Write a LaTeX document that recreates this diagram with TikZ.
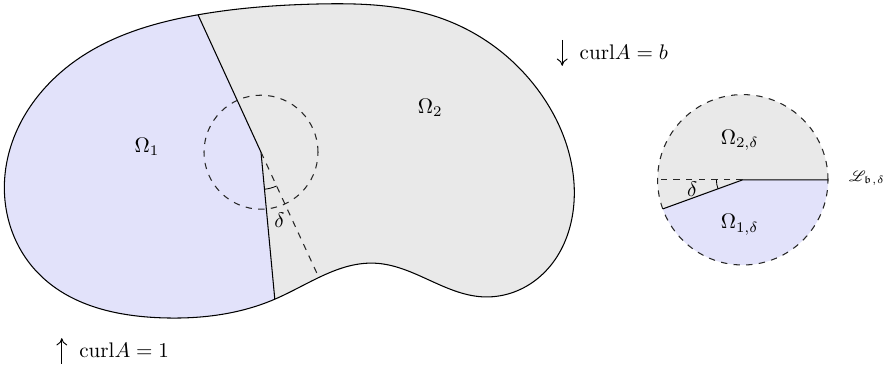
\documentclass[tikz,border=0pt]{standalone}
\usepackage{amsmath,amssymb}
\usepackage{mathrsfs}
\usepackage{xcolor}
\usepackage{tikz}
\usetikzlibrary{angles, quotes, calc, hobby, arrows.meta}

\definecolor{regionone}{RGB}{226,226,250}
\definecolor{regiontwo}{RGB}{233,233,233}

\begin{document}
\begin{tikzpicture}[
    region/.style={font=\normalsize},
    bdry/.style={black, line width=0.5pt},
    aux/.style={dashed, black!85, line width=0.5pt},
    lbl/.style={font=\normalsize, inner sep=1pt},
    arr/.style={-{To[length=1.2mm, width=1.8mm]}, line width=0.45pt}
]
\useasboundingbox (0,0) rectangle (14.75,6.1667);

% Points on the interface
\coordinate (top) at (3.30,5.92);
\coordinate (kink) at (4.35,3.63);
\coordinate (bot) at (4.58,1.18);
\coordinate (dend) at (5.32,1.53);

\def\boundary{[closed hobby] plot coordinates {
    (3.30,5.92) (5.30,6.10) (7.33,5.87) (9.05,4.55)
    (9.57,3.05) (8.93,1.50) (8.03,1.22) (6.25,1.78)
    (4.58,1.18) (2.68,0.87) (0.63,1.62) (0.08,3.22)
    (1.28,5.17)}}

% Domain
\fill[regiontwo] \boundary;
\begin{scope}
\clip (kink) -- (top) -- (3.05,6.5) -- (-0.5,6.5) -- (-0.5,0.3) -- (4.63,0.3) -- (bot) -- cycle;
\fill[regionone] \boundary;
\end{scope}
\draw[bdry] \boundary;

% Interface and blow-up disc
\draw[bdry] (top) -- (kink) -- (bot);
\draw[aux] (kink) -- (dend);
\draw[aux] (kink) circle (0.95);
\pic[draw, angle radius=0.62cm, "$\delta$", angle eccentricity=1.9] {angle = bot--kink--dend};

\node[region] (om1) at (2.45,3.72) {$\Omega_1$};
\node[region] (om2) at (7.17,4.37) {$\Omega_2$};

% Limit disc
\coordinate (c) at (12.38,3.17);
\coordinate (east) at ($(c)+(0:1.42)$);
\coordinate (west) at ($(c)+(180:1.42)$);
\coordinate (sw) at ($(c)+(200:1.42)$);
\fill[regiontwo] (c) -- (east) arc[start angle=0, end angle=200, radius=1.42] -- cycle;
\fill[regionone] (c) -- (sw) arc[start angle=200, end angle=360, radius=1.42] -- cycle;
\draw[aux] (c) circle (1.42);
\draw[bdry] (east) -- (c) -- (sw);
\draw[aux] (c) -- (west);
\pic[draw, angle radius=0.44cm, "$\delta$", angle eccentricity=1.95] {angle = west--c--sw};

\node[region] (om2d) at (12.33,3.83) {$\Omega_{2,\delta}$};
\node[region] (om1d) at (12.33,2.42) {$\Omega_{1,\delta}$};
\node[lbl, font=\scriptsize] (lim) at (14.45,3.20) {$\mathscr{L}_{\mathfrak{b},\delta}$};

% Boundary data
\coordinate (downtail) at (9.37,5.50);
\coordinate (downhead) at (9.37,5.07);
\draw[arr] (downtail) -- (downhead);
\node[lbl, anchor=west] (curlb) at (9.62,5.30) {$\mathrm{curl} A = b$};
\coordinate (uptail) at (1.03,0.10);
\coordinate (uphead) at (1.03,0.53);
\draw[arr] (uptail) -- (uphead);
\node[lbl, anchor=west] (curl1) at (1.28,0.33) {$\mathrm{curl} A = 1$};
\end{tikzpicture}
\end{document}
